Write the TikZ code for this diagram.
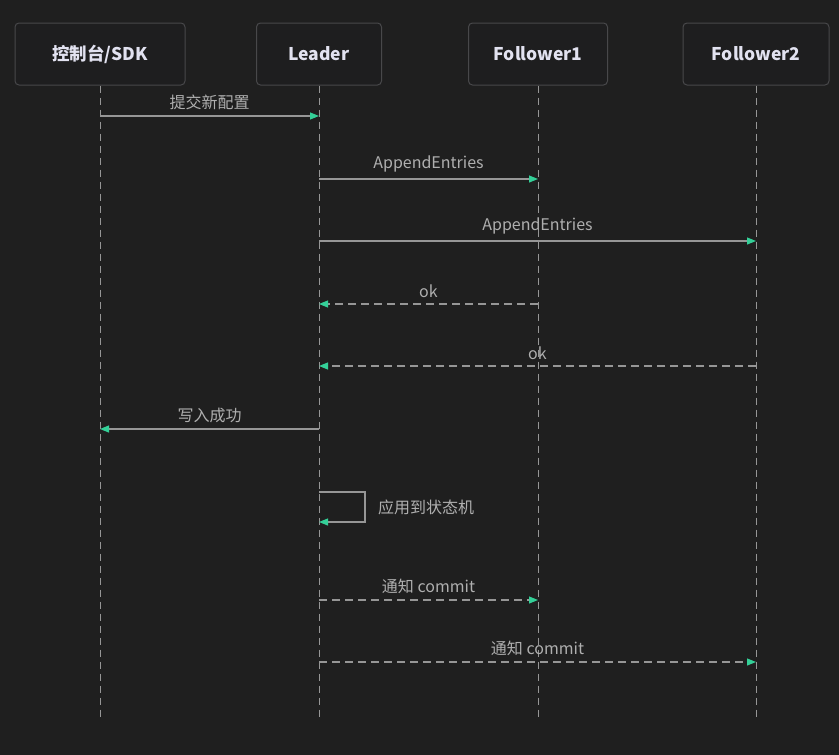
\documentclass[tikz,border=0pt]{standalone}
\usepackage{fontspec}
\setmainfont{Noto Sans CJK SC}
\usetikzlibrary{arrows.meta}
\definecolor{bgdark}{RGB}{31, 31, 31}
\definecolor{boxline}{RGB}{72, 72, 74}
\definecolor{boxfill}{RGB}{30, 30, 31}
\definecolor{hdrtext}{RGB}{226, 226, 240}
\definecolor{wire}{RGB}{150, 150, 150}
\definecolor{lbltext}{RGB}{175, 175, 175}
\definecolor{tipgreen}{RGB}{52, 208, 152}
\tikzset{
    actor/.style ={draw=boxline, line width=1pt, fill=boxfill,
                   minimum height=62pt, rounded corners=4pt,
                   text=hdrtext, font=\fontsize{17.5}{20}\selectfont\bfseries},
    life/.style  ={draw=wire, line width=0.9pt, dash pattern=on 7pt off 5pt},
    msg/.style   ={-{Triangle[length=9pt, width=7pt, color=tipgreen, fill=tipgreen]},
                   line width=1.1pt, draw=wire},
    reply/.style ={msg, dash pattern=on 8pt off 5pt},
    lbl/.style   ={text=lbltext, font=\fontsize{16}{18}\selectfont, inner sep=0pt}
}
\begin{document}
\begin{tikzpicture}[x=1pt, y=-1pt]
  \fill[bgdark] (0,0) rectangle (839,755);
  \useasboundingbox (0,0) rectangle (839,755);

  % actors
  \node[actor, minimum width=170pt] (sdk) at (100,54)   {控制台/SDK};
  \node[actor, minimum width=125pt] (ldr) at (319,54)   {Leader};
  \node[actor, minimum width=139pt] (fo1) at (538,54)   {Follower1};
  \node[actor, minimum width=146pt] (fo2) at (756,54)   {Follower2};

  % lifelines
  \coordinate (sdkend) at (100,720);
  \coordinate (ldrend) at (319,720);
  \coordinate (fo1end) at (538,720);
  \coordinate (fo2end) at (756,720);
  \draw[life] (sdk.south) -- (sdkend);
  \draw[life] (ldr.south) -- (ldrend);
  \draw[life] (fo1.south) -- (fo1end);
  \draw[life] (fo2.south) -- (fo2end);

  % submit
  \coordinate (sdk1) at (100,116);  \coordinate (ldr1) at (319,116);
  \draw[msg] (sdk1) -- node[lbl, above=6pt] {提交新配置} (ldr1);

  % replicate
  \coordinate (ldr2) at (319,179);  \coordinate (fo12) at (538,179);
  \draw[msg] (ldr2) -- node[lbl, above=6pt] {AppendEntries} (fo12);
  \coordinate (ldr3) at (319,241);  \coordinate (fo23) at (756,241);
  \draw[msg] (ldr3) -- node[lbl, above=6pt] {AppendEntries} (fo23);

  % acks
  \coordinate (fo14) at (538,304);  \coordinate (ldr4) at (319,304);
  \draw[reply] (fo14) -- node[lbl, above=6pt] {ok} (ldr4);
  \coordinate (fo25) at (756,366);  \coordinate (ldr5) at (319,366);
  \draw[reply] (fo25) -- node[lbl, above=6pt] {ok} (ldr5);

  % success back to client
  \coordinate (ldr6) at (319,429);  \coordinate (sdk6) at (100,429);
  \draw[msg] (ldr6) -- node[lbl, above=6pt] {写入成功} (sdk6);

  % apply
  \coordinate (ldr7) at (319,492);  \coordinate (ldr8) at (319,522);
  \draw[msg] (ldr7) -- ++(46,0) |- (ldr8);
  \node[lbl, anchor=west] (apply) at (378,507) {应用到状态机};

  % commit notice
  \coordinate (ldr9) at (319,600);  \coordinate (fo19) at (538,600);
  \draw[reply] (ldr9) -- node[lbl, above=6pt] {通知 commit} (fo19);
  \coordinate (ldr10) at (319,662); \coordinate (fo210) at (756,662);
  \draw[reply] (ldr10) -- node[lbl, above=6pt] {通知 commit} (fo210);
\end{tikzpicture}
\end{document}
